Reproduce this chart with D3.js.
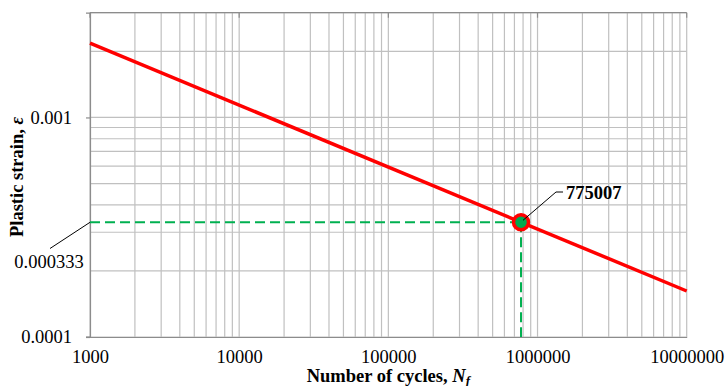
<!DOCTYPE html>
<html>
<head>
<meta charset="utf-8">
<script src="https://cdn.jsdelivr.net/npm/d3@7"></script>
<style>
  html, body { margin: 0; padding: 0; background: #fff; }
  svg { display: block; }
  text { font-family: "Liberation Serif", "Times New Roman", serif; fill: #000; }
</style>
</head>
<body>
<div id="chart"></div>
<script>
// ---- data ----
const xTickValues = [1000, 10000, 100000, 1000000, 10000000];
const xTickLabels = ["1000", "10000", "100000", "1000000", "10000000"];
const yTickValues = [0.0001, 0.001];
const yTickLabels = ["0.0001", "0.001"];
const lineCycles = [1000, 10000000];
const lineStrain = [0.00218, 0.000162];
const pointCycles = [775007];
const pointStrain = [0.000333];
const pointLabel = "775007";
const strainLabel = "0.000333";

const W = 726, H = 386;
const m = { left: 90, right: 39.3, top: 12.7, bottom: 49 };
const iw = W - m.left - m.right, ih = H - m.top - m.bottom;

const svg = d3.select("#chart").append("svg").attr("width", W).attr("height", H);
const g = svg.append("g").attr("transform", `translate(${m.left},${m.top})`);

const x = d3.scaleLog().domain([1000, 10000000]).range([0, iw]);
const y = d3.scaleLog().domain([0.0001, 0.003]).range([ih, 0]);

// minor/major gridlines
const xGrid = [];
for (let e = 3; e < 7; e++) for (let k = 1; k <= 9; k++) xGrid.push(k * Math.pow(10, e));
xGrid.push(10000000);
const yGrid = [];
for (let e = -4; e < -3; e++) for (let k = 1; k <= 9; k++) yGrid.push(+(k * Math.pow(10, e)).toPrecision(3));
yGrid.push(0.001, 0.002, 0.003);

g.append("g").selectAll("line").data(xGrid).join("line")
  .attr("x1", d => x(d)).attr("x2", d => x(d)).attr("y1", 0).attr("y2", ih)
  .attr("stroke", "#c0c0c0").attr("stroke-width", 1.2);
g.append("g").selectAll("line").data(yGrid).join("line")
  .attr("x1", 0).attr("x2", iw).attr("y1", d => y(d)).attr("y2", d => y(d))
  .attr("stroke", "#c0c0c0").attr("stroke-width", 1.2);

// top border with small ticks
g.append("line").attr("x1", 0).attr("x2", iw).attr("y1", 0).attr("y2", 0)
  .attr("stroke", "#8c8c8c").attr("stroke-width", 1.2);
g.append("g").selectAll("line").data(xTickValues).join("line")
  .attr("x1", d => x(d)).attr("x2", d => x(d)).attr("y1", 0).attr("y2", 5)
  .attr("stroke", "#8c8c8c").attr("stroke-width", 1.2);

// axes
const yAxis = d3.axisLeft(y).tickValues(yTickValues).tickFormat((d, i) => yTickLabels[i]).tickSize(4).tickPadding(14);
const ya = g.append("g").call(yAxis);
ya.select(".domain").attr("stroke", "#8c8c8c").attr("stroke-width", 1.2);
ya.selectAll(".tick line").attr("stroke", "#8c8c8c").attr("stroke-width", 1.2);
ya.selectAll(".tick text").attr("font-size", 18.5).attr("font-family", "Liberation Serif, serif").attr("fill", "#000");

const xAxis = d3.axisBottom(x).tickValues(xTickValues).tickFormat((d, i) => xTickLabels[i]).tickSize(0).tickPadding(13);
const xa = g.append("g").attr("transform", `translate(0,${ih})`).call(xAxis);
xa.select(".domain").attr("stroke", "#8c8c8c").attr("stroke-width", 1.2);
xa.selectAll(".tick text").attr("font-size", 18.5).attr("font-family", "Liberation Serif, serif").attr("fill", "#000");

// left axis extends to the bottom
g.append("line").attr("x1", -4).attr("x2", 0).attr("y1", ih).attr("y2", ih)
  .attr("stroke", "#8c8c8c").attr("stroke-width", 1.2);

// green dashed guide lines
const px = x(pointCycles[0]), py = y(pointStrain[0]);
g.append("line").attr("x1", 0).attr("x2", px).attr("y1", py).attr("y2", py)
  .attr("stroke", "#00b050").attr("stroke-width", 2).attr("stroke-dasharray", "10,5");
g.append("line").attr("x1", px).attr("x2", px).attr("y1", py).attr("y2", ih)
  .attr("stroke", "#00b050").attr("stroke-width", 2).attr("stroke-dasharray", "10,5");

// red line
const lineData = lineCycles.map((c, i) => [c, lineStrain[i]]);
g.append("path").datum(lineData)
  .attr("d", d3.line().x(d => x(d[0])).y(d => y(d[1])))
  .attr("fill", "none").attr("stroke", "#ff0000").attr("stroke-width", 3.5);

// marker
g.selectAll("circle.pt").data(pointCycles).join("circle").attr("class", "pt")
  .attr("cx", d => x(d)).attr("cy", (d, i) => y(pointStrain[i])).attr("r", 7.5)
  .attr("fill", "#00a84f").attr("stroke", "#ff0000").attr("stroke-width", 3.5);

// leader for 0.000333
g.append("line").attr("x1", 0).attr("y1", py).attr("x2", 50 - m.left).attr("y2", 248.5 - m.top)
  .attr("stroke", "#000").attr("stroke-width", 1);
svg.append("text").attr("x", 49).attr("y", 268).attr("text-anchor", "middle")
  .attr("font-size", 18.5).text(strainLabel);

// leader for 775007
g.append("path")
  .attr("d", `M${px + 2},${py - 2}L${556 - m.left},${192 - m.top}L${563 - m.left},${192 - m.top}`)
  .attr("fill", "none").attr("stroke", "#000").attr("stroke-width", 1);
svg.append("text").attr("x", 566).attr("y", 199).attr("font-size", 18.5).attr("font-weight", "bold")
  .text(pointLabel);

// axis titles
const xt = svg.append("text").attr("x", m.left + iw / 2).attr("y", 381.5).attr("text-anchor", "middle")
  .attr("font-size", 18.5).attr("font-weight", "bold");
xt.append("tspan").text("Number of cycles, ");
xt.append("tspan").attr("font-style", "italic").text("N");
xt.append("tspan").attr("font-style", "italic").attr("font-size", 13).attr("dy", 3).text("f");

const yt = svg.append("text").attr("transform", `translate(23,177) rotate(-90)`).attr("text-anchor", "middle")
  .attr("font-size", 18.5).attr("font-weight", "bold");
yt.append("tspan").text("Plastic strain, ");
yt.append("tspan").attr("font-style", "italic").text("ε");
</script>
</body>
</html>
